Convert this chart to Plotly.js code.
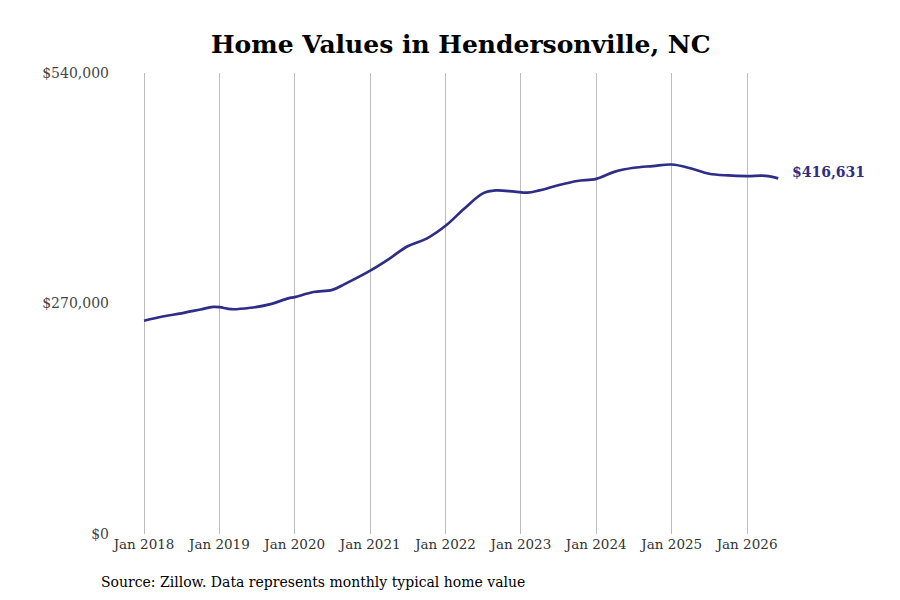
<!DOCTYPE html>
<html>
<head>
<meta charset="utf-8">
<script src="https://cdn.plot.ly/plotly-3.0.1.min.js"></script>
<style>html,body{margin:0;padding:0;background:#fff;}#chart{width:900px;height:600px;}</style>
</head>
<body>
<div id="chart"></div>
<script>
const dates = [
  '2018-01-01','2018-04-01','2018-07-01','2018-10-01','2018-12-01',
  '2019-01-01','2019-03-01','2019-06-01','2019-09-01','2019-12-01',
  '2020-01-01','2020-04-01','2020-07-01','2020-09-01',
  '2021-01-01','2021-04-01','2021-07-01','2021-10-01',
  '2022-01-01','2022-04-01','2022-07-01','2022-09-01','2022-12-01',
  '2023-02-01','2023-04-01','2023-07-01','2023-10-01',
  '2024-01-01','2024-04-01','2024-07-01','2024-10-01',
  '2025-01-01','2025-04-01','2025-07-01','2025-10-01',
  '2026-01-01','2026-04-01','2026-06-01'
];
const values = [
  249800, 254800, 258500, 263000, 266000,
  265800, 263300, 265000, 269000, 276000,
  277500, 283500, 286000, 293000,
  308500, 322000, 337000, 346000,
  361000, 381000, 399000, 402500, 401000,
  399800, 402500, 408500, 413500,
  416000, 424500, 429000, 431000,
  432800, 428500, 422000, 420000,
  419300, 419500, 416631
];
const yTickVals = [0, 270000, 540000];
const yTickText = ['$0', '$270,000', '$540,000'];
const xTickVals = ['2018-01-01','2019-01-01','2020-01-01','2021-01-01','2022-01-01','2023-01-01','2024-01-01','2025-01-01','2026-01-01'];
const xTickText = ['Jan 2018','Jan 2019','Jan 2020','Jan 2021','Jan 2022','Jan 2023','Jan 2024','Jan 2025','Jan 2026'];
const titleText = 'Home Values in Hendersonville, NC';
const sourceText = 'Source: Zillow. Data represents monthly typical home value';
const lastLabel = '$416,631';

const lineColor = '#2e2d88';
const serif = 'DejaVu Serif, serif';

const trace = {
  x: dates, y: values, type: 'scatter', mode: 'lines',
  line: {color: lineColor, width: 2.7, shape: 'spline', smoothing: 1},
  hoverinfo: 'skip'
};

const layout = {
  width: 900, height: 600,
  paper_bgcolor: '#fff', plot_bgcolor: '#fff',
  margin: {l: 110, r: 110, t: 73, b: 66},
  showlegend: false,
  title: {text: '<b>' + titleText + '</b>', font: {family: serif, size: 25, color: '#000'}, x: 0.512, xanchor: 'center', y: 0.927, yanchor: 'middle'},
  xaxis: {
    type: 'date', range: ['2017-07-20', '2026-07-28'],
    tickvals: xTickVals, ticktext: xTickText,
    showgrid: true, gridcolor: '#bdbdbd', gridwidth: 1,
    zeroline: false, showline: false, ticks: '',
    tickfont: {family: serif, size: 13.5, color: '#333'}
  },
  yaxis: {
    range: [0, 540000], tickvals: yTickVals, ticktext: yTickText,
    showgrid: false, zeroline: false, showline: false, ticks: '',
    tickfont: {family: serif, size: 14, color: '#444'}
  },
  annotations: [
    {x: dates[dates.length - 1], y: values[values.length - 1], xref: 'x', yref: 'y',
     text: '<b>' + lastLabel + '</b>', showarrow: false, xanchor: 'left', yanchor: 'middle',
     xshift: 12, yshift: 6, font: {family: serif, size: 14, color: lineColor}},
    {x: (99 - 110) / 680, y: (534 - 582) / 461, xref: 'paper', yref: 'paper', text: sourceText, showarrow: false,
     xanchor: 'left', yanchor: 'middle',
     font: {family: serif, size: 14, color: '#000'}}
  ]
};

Plotly.newPlot('chart', [trace], layout, {displayModeBar: false, staticPlot: true});
</script>
</body>
</html>
